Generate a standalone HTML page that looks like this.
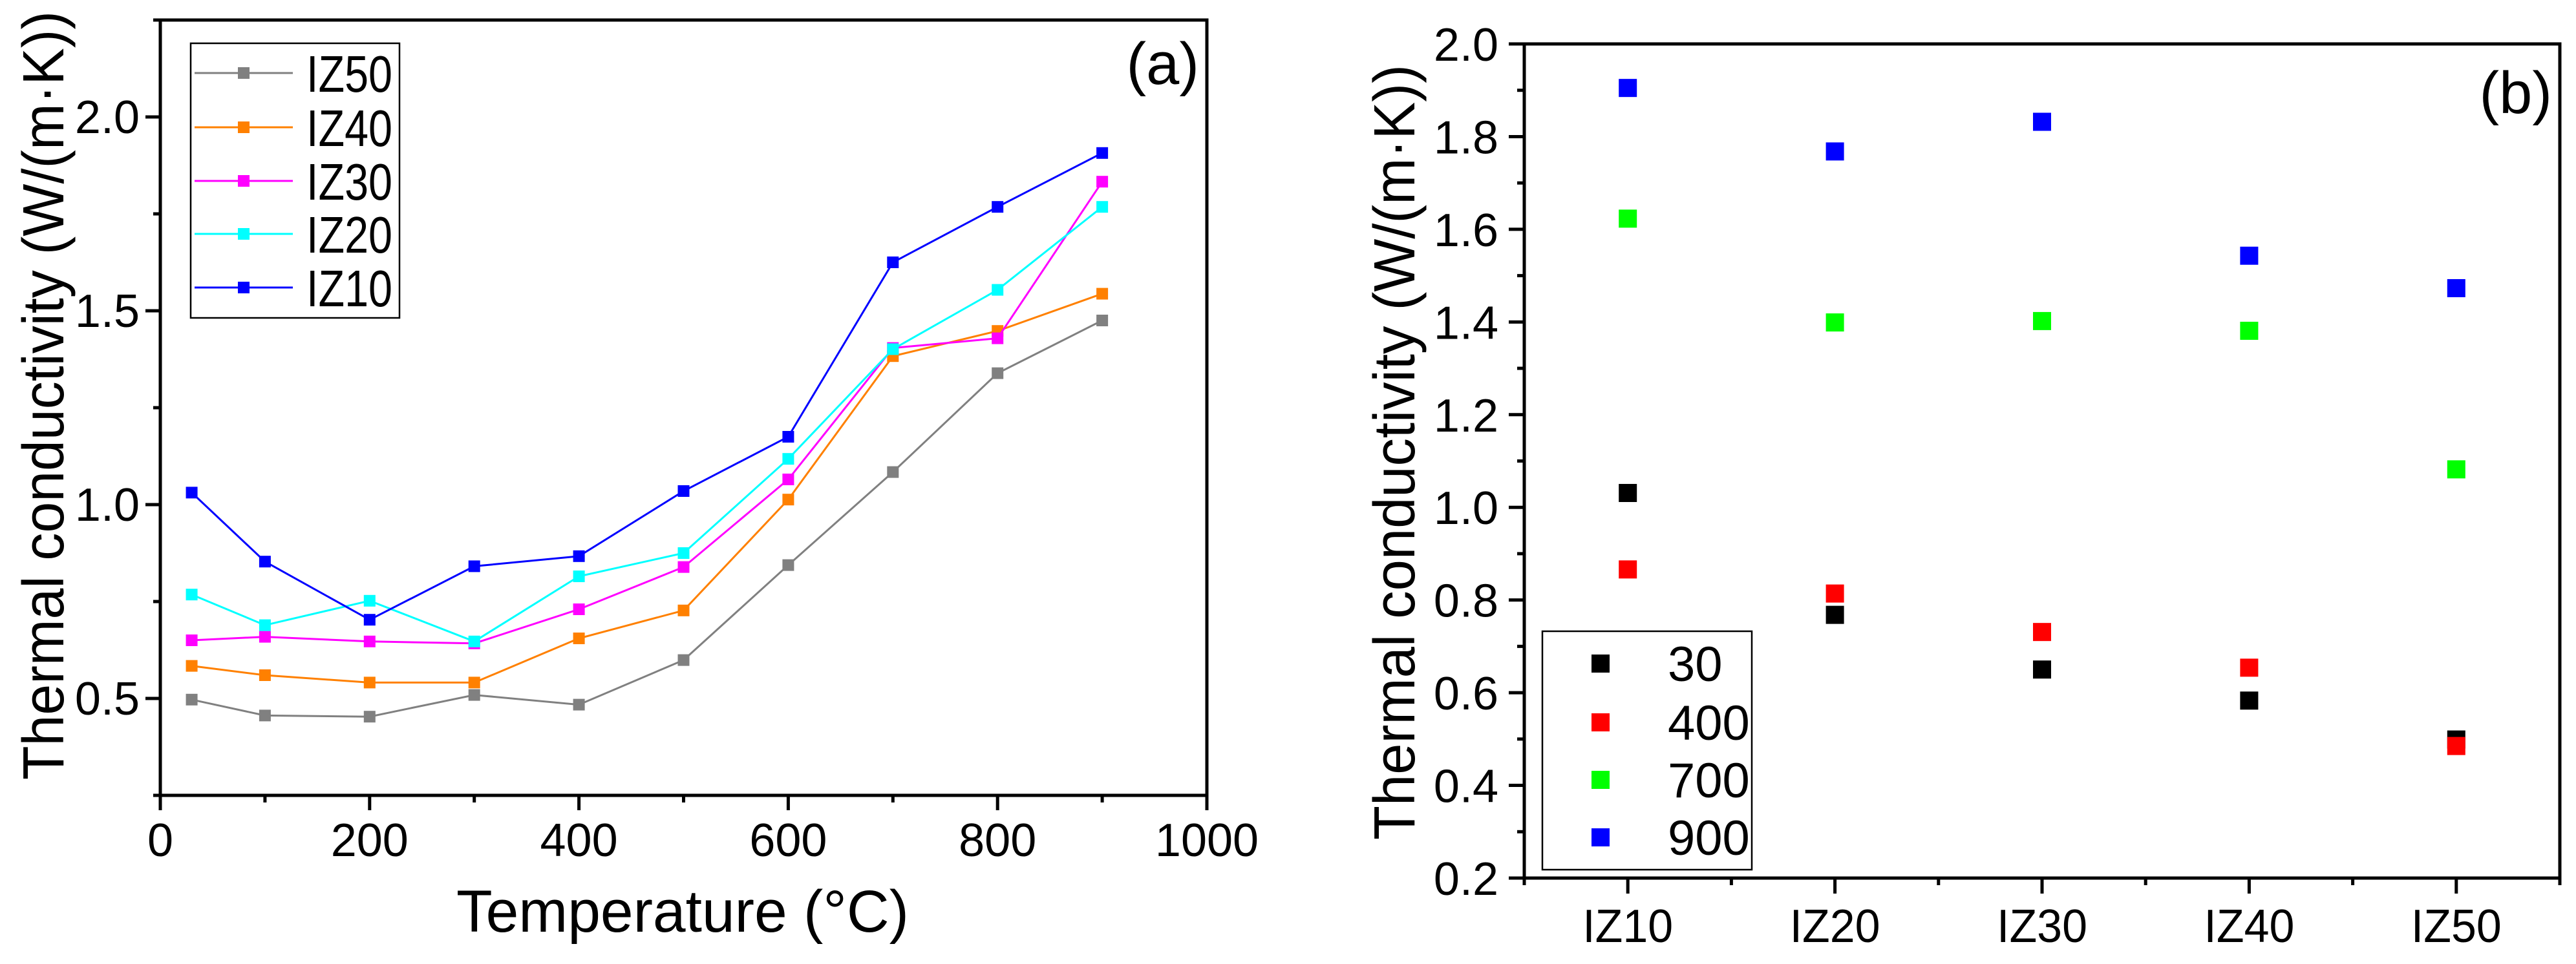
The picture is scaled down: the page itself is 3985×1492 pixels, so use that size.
<!DOCTYPE html>
<html><head><meta charset="utf-8"><style>
body{margin:0;background:#fff}
svg text{font-family:"Liberation Sans",sans-serif;fill:#000}
</style></head><body>
<svg id="fig" width="3985" height="1487" viewBox="0 0 3985 1487" xmlns="http://www.w3.org/2000/svg">
<rect width="3985" height="1487" fill="#fff"/>
<g id="pa"></g>
<g id="pb"></g>
</svg>
<script>
// Panel (a) data
const temps = [30,100,200,300,400,500,600,700,800,900];
const seriesNames = ["IZ50","IZ40","IZ30","IZ20","IZ10"];
const seriesColors = ["#808080","#ff8000","#ff00ff","#00ffff","#0000ff"];
const iz50 = [0.497,0.456,0.453,0.509,0.484,0.599,0.844,1.084,1.339,1.475];
const iz40 = [0.584,0.560,0.541,0.541,0.655,0.727,1.013,1.383,1.448,1.544];
const iz30 = [0.650,0.659,0.647,0.642,0.730,0.839,1.065,1.404,1.429,1.833];
const iz20 = [0.768,0.689,0.752,0.647,0.815,0.875,1.118,1.401,1.554,1.768];
const iz10 = [1.031,0.853,0.703,0.841,0.867,1.035,1.175,1.625,1.768,1.907];
const xTicksA = [0,200,400,600,800,1000];
const yTicksA = ["0.5","1.0","1.5","2.0"];
// Panel (b) data
const samples = ["IZ10","IZ20","IZ30","IZ40","IZ50"];
const groupNames = ["30","400","700","900"];
const groupColors = ["#000000","#ff0000","#00ff00","#0000ff"];
const t30 = [1.031,0.768,0.650,0.583,0.499];
const t400 = [0.866,0.814,0.731,0.654,0.485];
const t700 = [1.623,1.399,1.402,1.381,1.082];
const t900 = [1.905,1.768,1.832,1.543,1.473];
const yTicksB = ["0.2","0.4","0.6","0.8","1.0","1.2","1.4","1.6","1.8","2.0"];

const NS="http://www.w3.org/2000/svg";
function mk(parent,tag,attrs,text){const e=document.createElementNS(NS,tag);for(const k in attrs)e.setAttribute(k,attrs[k]);if(text!==undefined)e.textContent=text;parent.appendChild(e);return e;}

// ---------- Panel A ----------
const pa=document.getElementById('pa');
const A={l:248,r:1867,t:31,b:1231,x0:0,x1:1000,y0:0.25,y1:2.25};
const xa=v=>A.l+(v-A.x0)/(A.x1-A.x0)*(A.r-A.l);
const ya=v=>A.b-(v-A.y0)/(A.y1-A.y0)*(A.b-A.t);
for(let v=0;v<=1000;v+=100){
  const major=v%200===0;
  const t=mk(pa,'line',{x1:xa(v),x2:xa(v),y1:A.b,y2:A.b+(major?23:11),stroke:'#000','stroke-width':5});
  
  
}
xTicksA.forEach(v=>{
  const t=mk(pa,'text',{x:xa(v),y:1325,'font-size':72,'text-anchor':'middle'},String(v));
  
  
});
for(let v=0.25;v<=2.251;v+=0.25){
  const major=Math.abs(v*2-Math.round(v*2))<1e-6;
  const t=mk(pa,'line',{x1:A.l-(major?23:11),x2:A.l,y1:ya(v),y2:ya(v),stroke:'#000','stroke-width':5});
  
  
}
yTicksA.forEach(s=>{
  const t=mk(pa,'text',{x:A.l-32,y:ya(parseFloat(s))+25,'font-size':72,'text-anchor':'end'},s);
  
  
});
const dataA=[iz50,iz40,iz30,iz20,iz10];
dataA.forEach((arr,i)=>{
  const pts=arr.map((v,j)=>xa(temps[j])+','+ya(v)).join(' ');
  const pl=mk(pa,'polyline',{points:pts,fill:'none',stroke:seriesColors[i],'stroke-width':3});
  
  
  arr.forEach((v,j)=>{
    const r=mk(pa,'rect',{x:xa(temps[j])-9,y:ya(v)-9,width:18,height:18,fill:seriesColors[i]});
    
    
  });
});
const fa=mk(pa,'rect',{x:A.l,y:A.t,width:A.r-A.l,height:A.b-A.t,fill:'none',stroke:'#000','stroke-width':5});


const lga=mk(pa,'g',{});


mk(lga,'rect',{x:295,y:67,width:323,height:425,fill:'#fff',stroke:'#000','stroke-width':2.5});
const legY=[113,197,280,362,445];
seriesNames.forEach((n,i)=>{
  const g=mk(lga,'g',{});
  
  
  mk(g,'line',{x1:301,x2:453,y1:legY[i],y2:legY[i],stroke:seriesColors[i],'stroke-width':3});
  mk(g,'rect',{x:368,y:legY[i]-9,width:18,height:18,fill:seriesColors[i]});
  mk(g,'text',{x:474,y:legY[i]+29,'font-size':80,textLength:133,lengthAdjust:'spacingAndGlyphs'},n);
});
const lbA=mk(pa,'text',{x:1855,y:130,'font-size':92,'text-anchor':'end'},'(a)');


const xtA=mk(pa,'text',{x:1056,y:1442,'font-size':92,'text-anchor':'middle',textLength:700,lengthAdjust:'spacingAndGlyphs'},'Temperature (°C)');


const ytA=mk(pa,'text',{x:0,y:0,'font-size':90,'text-anchor':'middle',textLength:1190,lengthAdjust:'spacingAndGlyphs',transform:'translate(98,612) rotate(-90)'},'Thermal conductivity (W/(m·K))');



// ---------- Panel B ----------
const pb=document.getElementById('pb');
const B={l:2358,r:3960,t:68,b:1359,y0:0.2,y1:2.0};
const xb=i=>B.l+(i+0.5)/5*(B.r-B.l);
const yb=v=>B.b-(v-B.y0)/(B.y1-B.y0)*(B.b-B.t);
for(let k=0;k<=10;k++){
  const major=k%2===1;
  const x=B.l+k/10*(B.r-B.l);
  const t=mk(pb,'line',{x1:x,x2:x,y1:B.b,y2:B.b+(major?24:11),stroke:'#000','stroke-width':5});
  
  
}
samples.forEach((s,i)=>{
  const t=mk(pb,'text',{x:xb(i),y:1458,'font-size':72,'text-anchor':'middle',textLength:140,lengthAdjust:'spacingAndGlyphs'},s);
  
  
});
for(let k=0;k<=18;k++){
  const v=0.2+k*0.1;const major=k%2===0;
  const t=mk(pb,'line',{x1:B.l-(major?24:11),x2:B.l,y1:yb(v),y2:yb(v),stroke:'#000','stroke-width':5});
  
  
}
yTicksB.forEach(s=>{
  const t=mk(pb,'text',{x:2318,y:yb(parseFloat(s))+26,'font-size':72,'text-anchor':'end'},s);
  
  
});
const dataB=[t30,t400,t700,t900];
dataB.forEach((arr,gi)=>{
  arr.forEach((v,i)=>{
    const r=mk(pb,'rect',{x:xb(i)-14,y:yb(v)-14,width:28,height:28,fill:groupColors[gi]});
    
    
  });
});
const fb=mk(pb,'rect',{x:B.l,y:B.t,width:B.r-B.l,height:B.b-B.t,fill:'none',stroke:'#000','stroke-width':5});


const lgb=mk(pb,'g',{});


mk(lgb,'rect',{x:2386,y:977,width:324,height:369,fill:'#fff',stroke:'#000','stroke-width':2.5});
const legYB=[1027,1118,1207,1296];
groupNames.forEach((n,i)=>{
  const g=mk(lgb,'g',{});
  
  
  mk(g,'rect',{x:2462,y:legYB[i]-14,width:28,height:28,fill:groupColors[i]});
  mk(g,'text',{x:2580,y:legYB[i]+27,'font-size':76},n);
});
const lbB=mk(pb,'text',{x:3948,y:175,'font-size':92,'text-anchor':'end'},'(b)');


const ytB=mk(pb,'text',{x:0,y:0,'font-size':90,'text-anchor':'middle',textLength:1200,lengthAdjust:'spacingAndGlyphs',transform:'translate(2188,700) rotate(-90)'},'Thermal conductivity (W/(m·K))');


</script>
</body></html>
